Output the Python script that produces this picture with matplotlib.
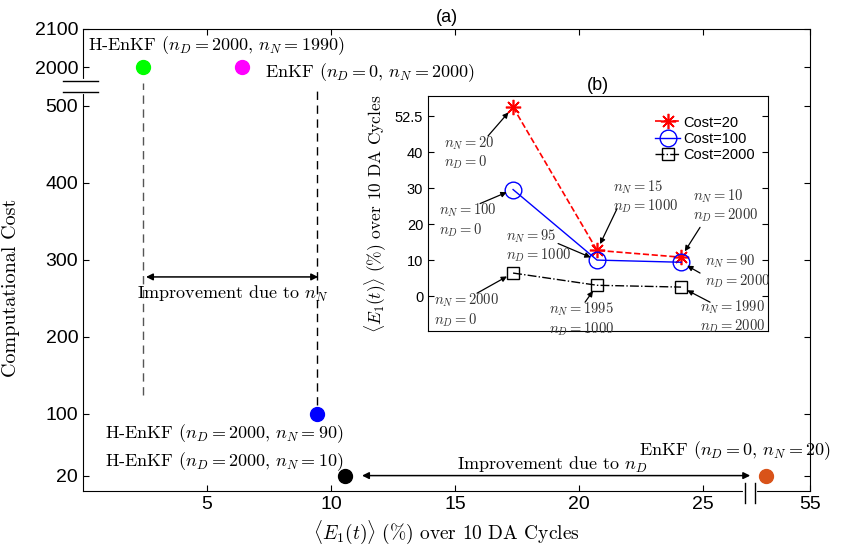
import matplotlib.pyplot as plt

plt.rcParams['mathtext.fontset'] = 'cm'
plt.rcParams['font.family'] = 'Liberation Sans'

# panel (a): mean error (%) vs computational cost
err_a = [2.42, 6.41, 9.44, 10.56, 53.5]
cost_a = [2000, 2000, 100, 20, 20]
colors_a = ['#00ff00', '#ff00ff', '#0000ff', '#000000', '#d95319']
names_a = ['H-EnKF ($n_D = 2000$, $n_N = 1990$)',
           'EnKF ($n_D = 0$, $n_N = 2000$)',
           'H-EnKF ($n_D = 2000$, $n_N = 90$)',
           'H-EnKF ($n_D = 2000$, $n_N = 10$)',
           'EnKF ($n_D = 0$, $n_N = 20$)']
xticks_a = [5, 10, 15, 20, 25, 55]
yticks_a = [20, 100, 200, 300, 400, 500, 2000, 2100]

# panel (b): error vs n_D for three costs
nD_b = [0, 1000, 2000]
err_c20 = [55.0, 12.7, 10.8]
err_c100 = [29.6, 10.0, 9.4]
err_c2000 = [6.4, 3.0, 2.5]
nN_c20 = [20, 15, 10]
nN_c100 = [100, 95, 90]
nN_c2000 = [2000, 1995, 1990]
yticks_b = [0, 10, 20, 30, 40, 52.5]


def xa(x):
    # broken x axis: 0..27 linear, then jump to ~53..55
    return x if x < 30 else 27.54 + (x - 53.5) * 1.18


def ya(c):
    # broken y axis: 0..500 linear, then 2000..2100
    return c if c <= 500 else 550 + (c - 2000) * 0.5


def yb(e):
    return e if e <= 45 else e - 2.5


fig = plt.figure(figsize=(8.41, 5.51), dpi=100)
ax = fig.add_axes([0.0987, 0.1089, 0.8644, 0.8385])

for e, c, col in zip(err_a, cost_a, colors_a):
    ax.plot(xa(e), ya(c), 'o', color=col, markersize=10, zorder=4)

serif = dict(family='cmr10', fontsize=13)
ax.text(0.2, 579, names_a[0], va='center', **serif)
ax.text(7.34, 543, names_a[1], va='center', **serif)
ax.text(0.89, 74, names_a[2], va='center', **serif)
ax.text(0.89, 37.7, names_a[3], va='center', **serif)
ax.text(22.4, 53, names_a[4], va='center', clip_on=False, **serif)

ax.plot([xa(err_a[0])] * 2, [125, 530], '--', color='#555555', lw=1, dashes=(6, 4))
ax.plot([xa(err_a[2])] * 2, [112, 523], '--', color='k', lw=1, dashes=(6, 4))

ax.annotate('', xy=(2.54, 278), xytext=(9.48, 278),
            arrowprops=dict(arrowstyle='<|-|>', color='k', lw=1.1,
                            mutation_scale=10, shrinkA=0, shrinkB=0))
ax.text(6.05, 256, 'Improvement due to $n_N$', ha='center', va='center', **serif)
ax.annotate('', xy=(11.25, 20), xytext=(26.9, 20),
            arrowprops=dict(arrowstyle='<|-|>', color='k', lw=1.1,
                            mutation_scale=10, shrinkA=0, shrinkB=0))
ax.text(18.9, 34, 'Improvement due to $n_D$', ha='center', va='center', **serif)

ax.set_xlim(0, xa(55))
ax.set_ylim(0, 600)
ax.set_xticks([xa(v) for v in xticks_a])
ax.set_xticklabels([str(v) for v in xticks_a])
ax.set_yticks([ya(v) for v in yticks_a])
ax.set_yticklabels([str(v) for v in yticks_a])
ax.tick_params(direction='in', top=True, right=True, labelsize=14, length=4)
ax.set_xlabel(r'$\langle E_1(t)\rangle\ (\%)$ over 10 DA Cycles', family='cmr10', fontsize=14)
ax.set_ylabel('Computational Cost', family='cmr10', fontsize=14.5)
ax.yaxis.set_label_coords(-0.087, 0.44)
ax.set_title('(a)', fontsize=13, pad=5)

# axis break marks
yt = ax.get_yaxis_transform()
ax.plot([0, 0], [518, 532], color='white', lw=3, transform=yt, clip_on=False, zorder=5)
for yy in (518, 532):
    ax.plot([-0.0275, 0.0206], [yy, yy], color='k', lw=1, transform=yt, clip_on=False, zorder=6)
xt = ax.get_xaxis_transform()
ax.plot([26.69, 27.10], [0, 0], color='white', lw=3, transform=xt, clip_on=False, zorder=5)
for xx in (26.69, 27.10):
    ax.plot([xx, xx], [0.017, -0.026], color='k', lw=1, transform=xt, clip_on=False, zorder=6)

# inset (b)
axb = fig.add_axes([0.509, 0.3993, 0.4043, 0.4265])
axb.plot(nD_b, [yb(v) for v in err_c20], '--', color='r', marker=(8, 2, 0), markersize=11,
         mew=1.2, lw=1.2, label='Cost=20')
axb.plot(nD_b, [yb(v) for v in err_c100], '-', color='b', marker='o', markersize=12,
         mfc='none', lw=1, label='Cost=100')
axb.plot(nD_b, [yb(v) for v in err_c2000], '-.', color='k', marker='s', markersize=8.5,
         mfc='none', lw=1, label='Cost=2000')
axb.set_xlim(-1012, 3036)
axb.set_ylim(-9.7, 55.6)
axb.set_xticks([])
axb.set_yticks([yb(v) for v in yticks_b])
axb.set_yticklabels(['0', '10', '20', '30', '40', '52.5'])
axb.tick_params(direction='in', right=True, labelsize=10.5, length=4)
axb.set_ylabel(r'$\langle E_1(t)\rangle\ (\%)$ over 10 DA Cycles', family='cmr10', fontsize=12.5)
axb.set_title('(b)', fontsize=13, pad=4)
axb.legend(loc='upper right', frameon=False, fontsize=10.5, handlelength=1.7,
           handletextpad=0.2, borderaxespad=0.3, labelspacing=0.15,
           bbox_to_anchor=(0.99, 0.96))

small = dict(fontsize=10.5, color='#333333', va='center', ha='left')
notes = [
    (0, nN_c20, -821, 39.9, (-298, 44.5)),
    (1, nN_c20, 1190, 27.6, (1238, 24.3)),
    (2, nN_c20, 2143, 25.1, (2226, 19.1)),
    (0, nN_c100, -881, 21.1, (-393, 25.7)),
    (1, nN_c100, -83, 14.0, (536, 14.6)),
    (2, nN_c100, 2286, 6.9, (2226, 6.4)),
    (0, nN_c2000, -940, -4.0, (-429, 0.8)),
    (1, nN_c2000, 429, -6.4, (857, -1.7)),
    (2, nN_c2000, 2226, -5.8, (2345, -1.7)),
]
series = {id(nN_c20): err_c20, id(nN_c100): err_c100, id(nN_c2000): err_c2000}
for i, nN, tx, ty, tail in notes:
    err = series[id(nN)]
    axb.text(tx, ty, '$n_N = %d$\n$n_D = %d$' % (nN[i], nD_b[i]), linespacing=1.15,
             clip_on=False, **small)
    axb.annotate('', xy=(nD_b[i], yb(err[i])), xytext=tail,
                 arrowprops=dict(arrowstyle='-|>', color='k', lw=0.9,
                                 mutation_scale=8, shrinkA=0, shrinkB=5))

plt.savefig('out.png', dpi=100)
